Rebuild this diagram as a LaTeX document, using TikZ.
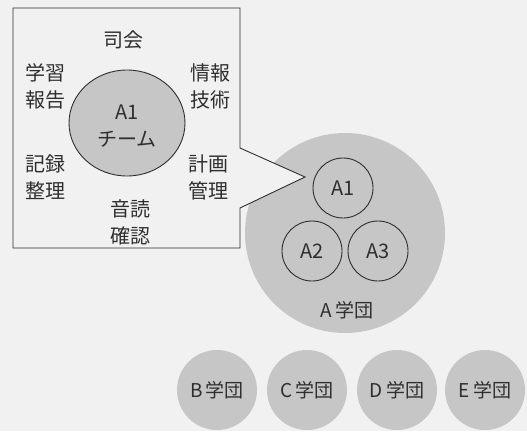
\documentclass[tikz,border=0pt]{standalone}
\usepackage{fontspec}
\usetikzlibrary{shapes.geometric}
\setmainfont{Noto Sans CJK JP}
\definecolor{bg}{HTML}{F1F1F1}
\definecolor{disc}{HTML}{C6C6C6}
\definecolor{ink}{HTML}{2E2E2E}
\begin{document}
\begin{tikzpicture}[x=1pt,y=-1pt,
  lbl/.style={font=\fontsize{20}{27}\selectfont, text=ink, align=center, inner sep=0pt},
  gdisc/.style={circle, fill=disc, draw=none, minimum size=80pt, inner sep=0pt, font=\fontsize{19}{20}\selectfont, text=ink},
  team/.style={circle, draw=ink, line width=0.9pt, fill=disc, minimum size=60pt, inner sep=0pt, font=\fontsize{20}{20}\selectfont, text=ink}]
\fill[bg] (0,0) rectangle (527,431);
\useasboundingbox (0,0) rectangle (527,431);
% A group
\node[circle, fill=disc, minimum size=200pt, inner sep=0pt] (AG) at (345,233) {};
\node[lbl, font=\fontsize{19}{20}\selectfont] (AGl) at (347,310) {A\,学団};
\node[team] (A1s) at (343,188) {A1};
\node[team] (A2) at (312,251) {A2};
\node[team] (A3) at (378,251) {A3};
% callout
\filldraw[fill=bg, draw=ink, line width=0.9pt, line join=miter]
  (13,8) -- (240,8) -- (240,148) -- (305,177) -- (240,208) -- (240,248) -- (13,248) -- cycle;
\node[ellipse, draw=ink, line width=0.9pt, fill=disc, minimum width=116pt, minimum height=106pt, inner sep=0pt] (A1big) at (127,123) {};
\node[lbl] (A1t) at (127,126) {A1\\チーム};
\node[lbl] (shikai) at (123,40) {司会};
\node[lbl] (gakushu) at (45,86) {学習\\報告};
\node[lbl] (joho) at (210,86) {情報\\技術};
\node[lbl] (kiroku) at (45,177) {記録\\整理};
\node[lbl] (keikaku) at (208,177) {計画\\管理};
\node[lbl] (ondoku) at (130,222) {音読\\確認};
% other groups
\node[gdisc] (B) at (217,390) {B\,学団};
\node[gdisc] (C) at (307,390) {C\,学団};
\node[gdisc] (D) at (397,390) {D\,学団};
\node[gdisc] (E) at (485,390) {E\,学団};
\end{tikzpicture}
\end{document}
